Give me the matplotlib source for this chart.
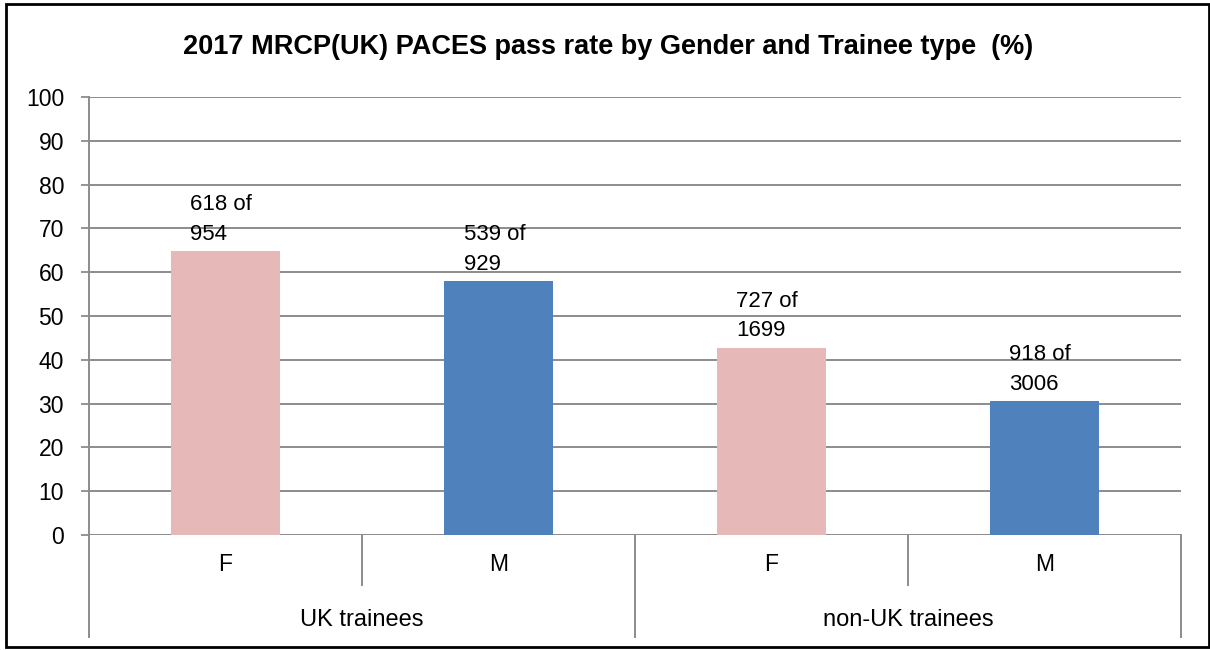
import matplotlib
matplotlib.use("Agg")
import matplotlib.pyplot as plt
from matplotlib.patches import Rectangle

# pass rate (%) by trainee type and gender
groups = ["UK trainees", "non-UK trainees"]
genders = ["F", "M", "F", "M"]
passed = [618, 539, 727, 918]
sat = [954, 929, 1699, 3006]
rates = [64.8, 58.0, 42.8, 30.5]
yticks = list(range(0, 101, 10))

PINK = "#E6B9B8"
BLUE = "#4F81BD"
GRID = "#8C8C8C"

plt.rcParams["font.family"] = ["Liberation Sans", "DejaVu Sans"]

fig = plt.figure(figsize=(12.1, 6.5), dpi=100)
ax = fig.add_axes([89 / 1210, 115 / 650, (1181 - 89) / 1210, 438 / 650])

xs = list(range(len(rates)))
colors = [PINK if g == "F" else BLUE for g in genders]
ax.bar(xs, rates, width=0.4, color=colors, zorder=3)

for x, r, p, n in zip(xs, rates, passed, sat):
    ax.annotate(f"{p} of\n{n}", xy=(x, r), xytext=(-3, 8), textcoords="offset points",
                ha="center", va="baseline", multialignment="left", fontsize=16,
                linespacing=1.55, zorder=4)

ax.set_xlim(-0.5, len(rates) - 0.5)
ax.set_ylim(0, 100)
ax.set_yticks(yticks)
ax.tick_params(axis="y", labelsize=16.5, length=6, width=1.3, color=GRID, pad=12)
ax.set_xticks([])
ax.grid(axis="y", color=GRID, lw=1.4, zorder=0)
for s in ["top", "right", "bottom"]:
    ax.spines[s].set_visible(False)
ax.spines["left"].set_color(GRID)
ax.spines["left"].set_linewidth(1.4)
ax.axhline(0, color=GRID, lw=1.4, zorder=2)

# two-level category axis
tr = ax.get_xaxis_transform()
for i in range(len(rates) + 1):
    x = i - 0.5
    low = -0.233 if i % 2 == 0 else -0.114
    ax.plot([x, x], [0, low], transform=tr, color=GRID, lw=1.4, clip_on=False)
for x, g in zip(xs, genders):
    ax.text(x, -0.068, g, transform=tr, ha="center", va="center", fontsize=16.5)
for i, g in enumerate(groups):
    ax.text(2 * i + 0.5, -0.194, g, transform=tr, ha="center", va="center", fontsize=17)

fig.text(608 / 1210, 1 - 47 / 650, "2017 MRCP(UK) PACES pass rate by Gender and Trainee type  (%)",
         ha="center", va="center", fontsize=19.5, fontweight="bold")

fig.patches.append(Rectangle((6 / 1210, 3 / 650), 1203 / 1210, 643 / 650, transform=fig.transFigure,
                             fill=False, edgecolor="black", lw=2))

fig.savefig("out.png", dpi=100)
